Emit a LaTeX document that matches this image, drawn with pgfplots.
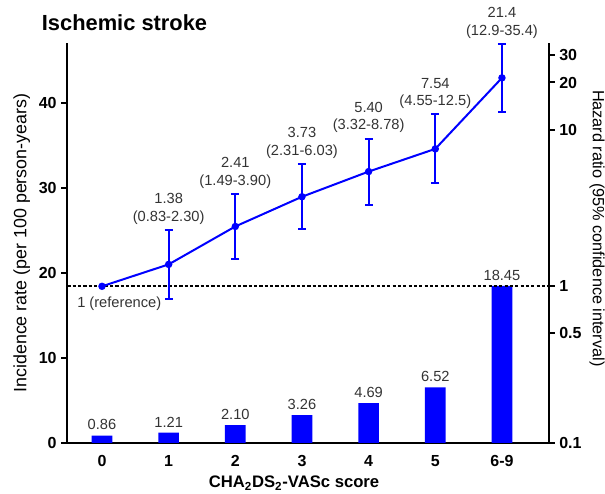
\documentclass[border=0pt]{standalone}
\usepackage{fontspec}
\setmainfont{Liberation Sans}
\usepackage{pgfplots}
\pgfplotsset{compat=1.18}

\definecolor{lbl}{HTML}{333333}
\newcommand{\fs}[1]{\fontsize{#1}{1.2\dimexpr#1pt\relax}\selectfont}

\pgfplotsset{
  common/.style={
    scale only axis, width=361pt, height=299.8pt,
    at={(0,0)}, anchor=south west,
    xmin=-0.52, xmax=6.70,
    axis line style={line width=1.5pt},
    major tick style={line width=1.5pt, black},
    tick align=outside, major tick length=4.5pt,
    /pgf/number format/assume math mode=true,
    tick label style={font=\bfseries\fs{12}},
    clip=false,
  }
}

\begin{document}
\begin{tikzpicture}
% incidence rate, bars, left axis
\begin{axis}[common,
  axis y line*=left, axis x line*=bottom,
  ymin=0, ymax=46.97,
  ytick={0,10,20,30,40},
  xtick={0,1,2,3,4,5,6},
  xticklabels={0,1,2,3,4,5,6-9},
  x tick style={draw=none},
  xticklabel style={yshift=-1pt},
  ybar, bar width=15.5pt,
  nodes near coords,
  nodes near coords style={font=\fs{11}, text=lbl, anchor=south, inner sep=1pt, yshift=3pt},
  every axis y label/.style={at={(axis description cs:-0.0947,0.5)}, anchor=center, rotate=90, font=\fs{13.4}},
  every axis x label/.style={at={(axis description cs:0.471,-0.1)}, anchor=center, font=\bfseries\fs{12.5}},
  ylabel={Incidence rate (per 100 person-years)},
  xlabel={CHA\textsubscript{2}DS\textsubscript{2}-VASc score},
  point meta=explicit symbolic,
]
\addplot[fill=blue, draw=none] coordinates {
  (0,0.86) [0.86]
  (1,1.21) [1.21]
  (2,2.10) [2.10]
  (3,3.26) [3.26]
  (4,4.69) [4.69]
  (5,6.52) [6.52]
  (6,18.45) [18.45]
};
\end{axis}

% hazard ratio, line, right log axis
\begin{axis}[common,
  axis y line*=right, axis x line=none,
  ymode=log, ymin=0.1, ymax=35.6,
  ytick={0.1,0.5,1,10,20,30},
  yticklabels={0.1,0.5,1,10,20,30},
  minor ytick={},
  every axis y label/.style={at={(axis description cs:1.1006,0.537)}, anchor=center, rotate=-90, font=\fs{12.2}},
  ylabel={Hazard ratio (95\% confidence interval)},
]
\addplot[black, line width=1.4pt, dash pattern=on 2.4pt off 1.6pt] coordinates {(-0.52,1) (6.70,1)};
\addplot[blue, line width=1.5pt, mark=*, mark size=2pt,
  error bars/.cd, y dir=both, y explicit,
  error bar style={line width=1.5pt, blue},
  error mark options={blue, mark size=3pt, line width=1.5pt, rotate=90}]
coordinates {
  (0,1)
  (1,1.38) += (0,0.92) -= (0,0.55)
  (2,2.41) += (0,1.49) -= (0,0.92)
  (3,3.73) += (0,2.30) -= (0,1.42)
  (4,5.40) += (0,3.38) -= (0,2.08)
  (5,7.54) += (0,4.96) -= (0,2.99)
  (6,21.4) += (0,14.0) -= (0,8.5)
};
\begin{scope}[every node/.style={font=\fs{11}, text=lbl, align=center, anchor=south, inner sep=1pt, yshift=3pt}]
\node at (axis cs:1,2.30) {1.38\\(0.83-2.30)};
\node at (axis cs:2,3.90) {2.41\\(1.49-3.90)};
\node at (axis cs:3,6.03) {3.73\\(2.31-6.03)};
\node at (axis cs:4,8.78) {5.40\\(3.32-8.78)};
\node at (axis cs:5,12.5) {7.54\\(4.55-12.5)};
\node at (axis cs:6,35.4) {21.4\\(12.9-35.4)};
\end{scope}
\node[font=\fs{11}, text=lbl, anchor=west, inner sep=0pt, xshift=-18.75pt, yshift=-13.3pt] at (axis cs:0,1) {1 (reference)};
\end{axis}

\node[font=\bfseries\fs{16.4}, anchor=center] at (42.9pt,315pt) {Ischemic stroke};

\pgfresetboundingbox
\path (-50.5pt,-38.25pt) rectangle (403.3pt,332.25pt);
\end{tikzpicture}
\end{document}
